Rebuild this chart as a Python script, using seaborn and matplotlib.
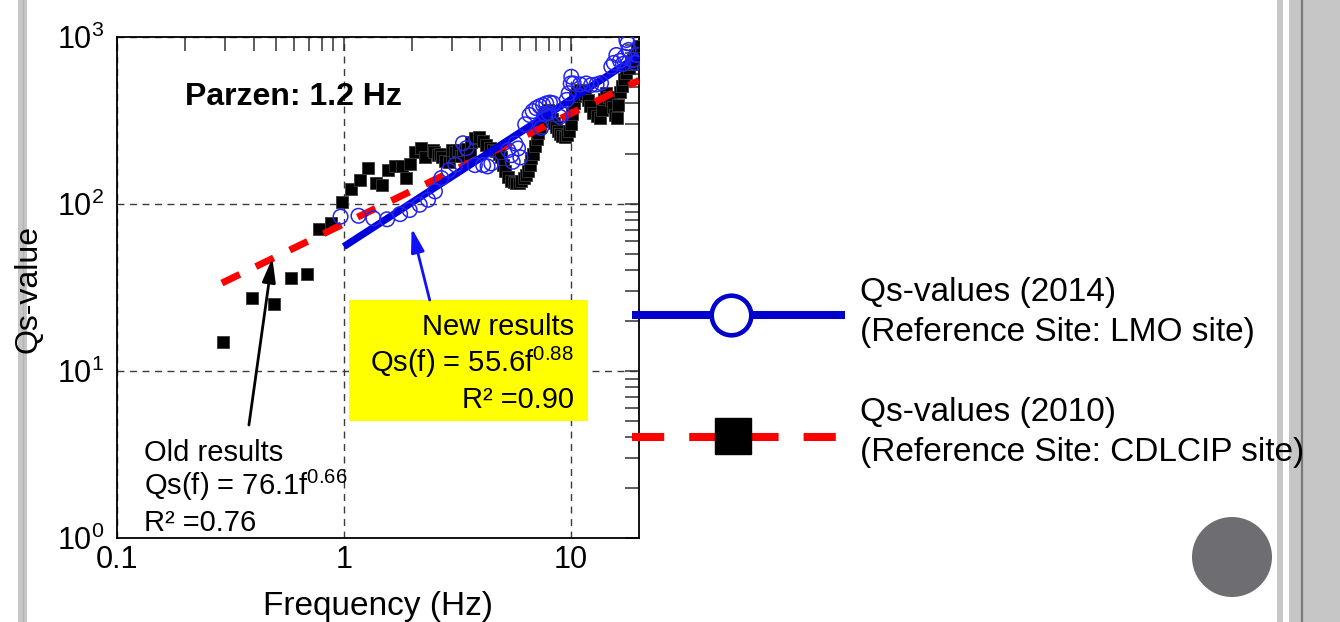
import numpy as np
import pandas as pd
import matplotlib
matplotlib.use("Agg")
import matplotlib.pyplot as plt
import matplotlib.ticker as mticker
from matplotlib.lines import Line2D
from matplotlib.patches import Rectangle, Ellipse
import seaborn as sns

# ---------------- data ----------------
# Qs-values (2010), reference site CDLCIP
freq_2010 = [0.294, 0.392, 0.49, 0.587, 0.686, 0.78, 0.88, 0.977, 1.07, 1.18,
             1.28, 1.38, 1.47, 1.57, 1.68, 1.80, 1.87, 1.95, 2.06, 2.18,
             2.28, 2.46, 2.50, 2.60, 2.65, 2.70, 2.80, 2.90, 3.00, 3.00,
             3.10, 3.20, 3.30, 3.35, 3.50, 3.60, 3.65, 3.80, 3.95, 4.10,
             4.25, 4.40, 4.55, 4.70, 4.85, 4.95, 5.05, 5.15, 5.30, 5.45,
             5.60, 5.75, 5.90, 6.05, 6.20, 6.35, 6.50, 6.60, 6.70, 6.82,
             6.95, 7.08, 7.20, 7.35, 7.50, 7.65, 7.80, 7.95, 8.10, 8.25,
             8.40, 8.60, 8.80, 9.00, 9.20, 9.40, 9.60, 9.80, 10.0, 10.15,
             10.3, 10.45, 10.7, 11.0, 11.3, 11.6, 11.9, 12.2, 12.6, 13.0,
             13.4, 13.7, 14.0, 14.3, 14.7, 15.1, 15.4, 15.7, 15.95, 16.2,
             16.5, 16.8, 17.2, 17.6, 18.0, 18.4, 18.8, 19.2, 19.6, 19.9]
qs_2010 = [14.9, 27.5, 25.1, 36.1, 38.0, 71.0, 77.0, 103, 123, 139,
           164, 134, 130, 160, 169, 168, 143, 174, 205, 216,
           192, 212, 205, 196, 200, 190, 182, 178, 195, 210,
           205, 210, 195, 212, 214, 200, 235, 250, 252, 238,
           225, 215, 210, 208, 200, 192, 172, 158, 146, 138,
           135, 133, 133, 137, 143, 150, 158, 172, 188, 200,
           222, 245, 265, 290, 315, 340, 358, 366, 345, 325,
           305, 288, 275, 262, 255, 253, 258, 275, 300, 345,
           400, 445, 470, 482, 472, 455, 420, 385, 352, 335,
           326, 365, 425, 460, 440, 420, 380, 340, 326, 390,
           470, 510, 560, 607, 650, 690, 728, 785, 840, 880]

# Qs-values (2014), reference site LMO
freq_2014 = [0.967, 1.16, 1.35, 1.55, 1.77, 1.95, 2.16, 2.35, 2.52, 2.69,
             2.90, 3.10, 3.35, 3.47, 3.78, 4.11, 4.30, 4.47, 5.30, 5.48,
             5.55, 5.70, 5.86, 6.00, 6.30, 6.59, 6.80, 7.05, 7.30, 7.40,
             7.55, 7.70, 7.80, 8.00, 8.10, 8.36, 8.95, 9.20, 9.60, 9.80,
             10.0, 10.06, 10.3, 11.0, 11.7, 12.3, 13.0, 13.6, 15.1, 15.5,
             15.9, 16.5, 17.0, 17.3, 17.6, 17.8, 18.0, 18.8, 19.2, 19.6]
qs_2014 = [84, 85, 82, 81, 87, 92, 99, 106, 119, 143,
           159, 172, 231, 216, 171, 171, 168, 175, 210, 196,
           179, 230, 215, 190, 300, 341, 360, 375, 385, 285,
           392, 345, 400, 350, 405, 401, 333, 345, 420, 460,
           527, 578, 527, 520, 527, 515, 520, 530, 664, 700,
           780, 720, 690, 762, 960, 917, 836, 728, 700, 780]

# power-law fits Qs(f) = a * f^b
fit_old = dict(a=76.1, b=0.66, r2=0.76, fmin=0.29, fmax=20.0)
fit_new = dict(a=55.6, b=0.88, r2=0.90, fmin=1.0, fmax=20.0)

x_ticks = [0.1, 1, 10]
x_tick_labels = ["0.1", "1", "10"]
y_ticks = [1, 10, 100, 1000]
y_tick_labels = [r"$\mathregular{10^{0}}$", r"$\mathregular{10^{1}}$",
                 r"$\mathregular{10^{2}}$", r"$\mathregular{10^{3}}$"]

# ---------------- style ----------------
sns.set_theme(style="white")
plt.rcParams["font.family"] = ["Liberation Sans", "DejaVu Sans"]
plt.rcParams["mathtext.fontset"] = "custom"
plt.rcParams["mathtext.rm"] = "Liberation Sans"
plt.rcParams["mathtext.it"] = "Liberation Sans:italic"
plt.rcParams["mathtext.bf"] = "Liberation Sans:bold"
plt.rcParams["text.color"] = "black"
plt.rcParams["axes.labelcolor"] = "black"
plt.rcParams["xtick.color"] = "black"
plt.rcParams["ytick.color"] = "black"

W, H = 1340, 622
fig = plt.figure(figsize=(W / 100, H / 100), dpi=100)
fig.patch.set_facecolor("white")


def fx(px):
    return px / W


def fy(py):
    return 1 - py / H


ax = fig.add_axes([fx(117), fy(538), 522 / W, 501 / H])
ax.set_xscale("log")
ax.set_yscale("log")

BLUE_LINE = "#0000dd"
BLUE_MARK = "#2424f0"

# fitted power laws
old_df = pd.DataFrame({"f": [fit_old["fmin"], fit_old["fmax"]]})
old_df["Q"] = fit_old["a"] * old_df["f"] ** fit_old["b"]
new_df = pd.DataFrame({"f": [fit_new["fmin"], fit_new["fmax"]]})
new_df["Q"] = fit_new["a"] * new_df["f"] ** fit_new["b"]

df_2010 = pd.DataFrame({"f": freq_2010, "Q": qs_2010})
df_2014 = pd.DataFrame({"f": freq_2014, "Q": qs_2014})

sns.scatterplot(data=df_2010, x="f", y="Q", marker="s", s=68, color="black",
                edgecolor="#3a3a3a", linewidth=0.6, ax=ax, zorder=3, legend=False)
sns.lineplot(data=old_df, x="f", y="Q", color="#ff0000", lw=5,
             linestyle=(0, (2.86, 2.57)), ax=ax, zorder=4, estimator=None)
sns.lineplot(data=new_df, x="f", y="Q", color=BLUE_LINE, lw=5.2,
             solid_capstyle="butt", ax=ax, zorder=5, estimator=None)
sns.scatterplot(data=df_2014, x="f", y="Q", marker="o", s=110,
                facecolor="none", edgecolor=BLUE_MARK, linewidth=1.1,
                ax=ax, zorder=6, legend=False)

# axes, ticks, grid
ax.set_xlim(0.1, 20)
ax.set_ylim(1, 1000)
ax.set_xticks(x_ticks)
ax.set_xticklabels(x_tick_labels)
ax.set_yticks(y_ticks)
ax.set_yticklabels(y_tick_labels)
for axis in (ax.xaxis, ax.yaxis):
    axis.set_minor_locator(mticker.LogLocator(base=10, subs=np.arange(2, 10), numticks=20))
    axis.set_minor_formatter(mticker.NullFormatter())
ax.tick_params(which="both", direction="in", top=True, right=True,
               length=10, width=1.1, color="#303030")
ax.tick_params(axis="x", which="major", labelsize=22, pad=5, labelcolor="black")
ax.tick_params(axis="y", which="major", labelsize=22, pad=9, labelcolor="black")
ax.grid(True, which="major", linestyle=(0, (5, 4)), color="#3a3a3a", lw=1.0)
ax.grid(False, which="minor")
ax.set_axisbelow(True)
for sp in ax.spines.values():
    sp.set_color("black")
    sp.set_linewidth(1.3)

ax.set_xlabel("Frequency (Hz)", fontsize=24, color="black")
ax.xaxis.set_label_coords(0.5, -0.106)
ax.set_ylabel("Qs-value", fontsize=23, color="black")
ax.yaxis.set_label_coords(-0.141, 0.497)


def axfrac(px, py):
    return ((px - 117) / 522, (538 - py) / 501)


# title inside the panel
ax.text(*axfrac(185, 105), "Parzen: 1.2 Hz", fontsize=23, fontweight="bold",
        ha="left", va="baseline", transform=ax.transAxes, zorder=8)

# highlighted box with the new fit
x0, y1 = axfrac(349, 300)
x1, y0 = axfrac(588, 421)
ax.add_patch(Rectangle((x0, y0), x1 - x0, y1 - y0, transform=ax.transAxes,
                       facecolor="#ffff00", edgecolor="none", zorder=7))
new_lines = ["New results",
             r"Qs(f) = %.1ff$^{\mathregular{%.2f}}$" % (fit_new["a"], fit_new["b"]),
             "R\u00b2 =%.2f" % fit_new["r2"]]
for txt, base in zip(new_lines, [335, 372, 408]):
    ax.text(*axfrac(574, base), txt, fontsize=21, ha="right", va="baseline",
            transform=ax.transAxes, zorder=8)

# old fit annotation
old_lines = ["Old results",
             r"Qs(f) = %.1ff$^{\mathregular{%.2f}}$" % (fit_old["a"], fit_old["b"]),
             "R\u00b2 =%.2f" % fit_old["r2"]]
for txt, base in zip(old_lines, [461, 495, 531]):
    ax.text(*axfrac(144, base), txt, fontsize=21, ha="left", va="baseline",
            transform=ax.transAxes, zorder=8)

ax.annotate("", xy=(1.99, 71.8), xytext=(2.39, 26.6),
            arrowprops=dict(arrowstyle="-|>,head_length=0.72,head_width=0.2",
                            mutation_scale=20, color="#1010ff", lw=2,
                            shrinkA=0, shrinkB=0), zorder=8)
ax.annotate("", xy=(0.484, 47.5), xytext=(0.3815, 4.75),
            arrowprops=dict(arrowstyle="-|>,head_length=0.72,head_width=0.2",
                            mutation_scale=20, color="black", lw=2,
                            shrinkA=0, shrinkB=0), zorder=8)

# ---------------- legend (drawn beside the panel) ----------------
fig.add_artist(Line2D([fx(632), fx(845)], [fy(315), fy(315)], transform=fig.transFigure,
                      color="#0000cc", lw=5.8, solid_capstyle="butt", zorder=5))
fig.add_artist(Line2D([fx(731)], [fy(315)], transform=fig.transFigure, marker="o",
                      markersize=28.5, markerfacecolor="white", markeredgecolor="#0000cc",
                      markeredgewidth=3.3, linestyle="none", zorder=6))
fig.add_artist(Line2D([fx(632), fx(838)], [fy(437), fy(437)], transform=fig.transFigure,
                      color="#ff0000", lw=5.8, linestyle=(0, (4.0, 3.1)), zorder=5))
fig.add_artist(Line2D([fx(733)], [fy(436)], transform=fig.transFigure, marker="s",
                      markersize=25.5, markerfacecolor="black", markeredgecolor="black",
                      linestyle="none", zorder=6))
fig.text(fx(860), fy(292), "Qs-values (2014)", fontsize=24, ha="left", va="center", zorder=10)
fig.text(fx(860), fy(332), "(Reference Site: LMO site)", fontsize=24, ha="left", va="center", zorder=10)
fig.text(fx(860), fy(412), "Qs-values (2010)", fontsize=24, ha="left", va="center", zorder=10)
fig.text(fx(860), fy(453), "(Reference Site: CDLCIP site)", fontsize=24, ha="left", va="center", zorder=10)

# ---------------- slide frame ----------------
fig.add_artist(Rectangle((fx(18), 0), 9 / W, 1, transform=fig.transFigure,
                         facecolor="#c6c6c6", edgecolor="none", zorder=0))
fig.add_artist(Line2D([fx(22.5), fx(22.5)], [0, 1], transform=fig.transFigure,
                      color="#b4b4b4", lw=1, zorder=0))
fig.add_artist(Rectangle((fx(1277), 0), 6 / W, 1, transform=fig.transFigure,
                         facecolor="#c6c6c6", edgecolor="none", zorder=0))
fig.add_artist(Rectangle((fx(1289), 0), 51 / W, 1, transform=fig.transFigure,
                         facecolor="#c6c6c6", edgecolor="none", zorder=0))
fig.add_artist(Line2D([fx(1302), fx(1302)], [0, 1], transform=fig.transFigure,
                      color="#7a7a7a", lw=1.6, zorder=1))
fig.add_artist(Ellipse((fx(1232), fy(557)), 80 / W, 80 / H, transform=fig.transFigure,
                       facecolor="#6e6e72", edgecolor="none", zorder=1))

fig.savefig("out.png", dpi=100, facecolor="white")
